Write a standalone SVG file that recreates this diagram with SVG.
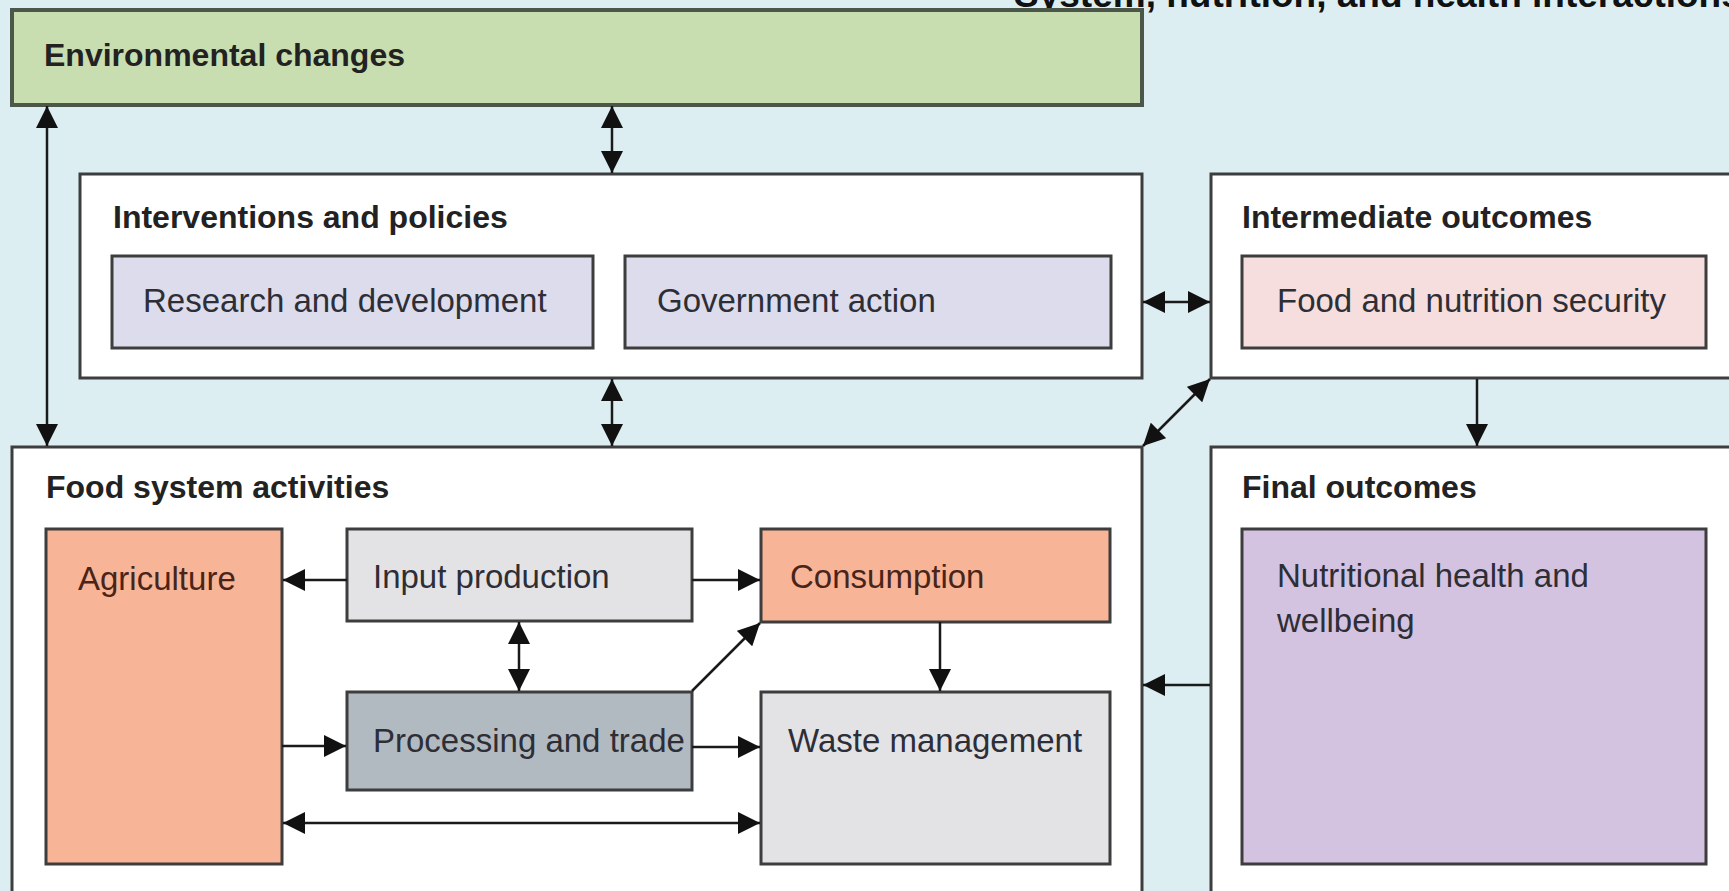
<svg xmlns="http://www.w3.org/2000/svg" width="1729" height="891" viewBox="0 0 1729 891">
<defs>
<marker id="ah" markerUnits="userSpaceOnUse" markerWidth="22" markerHeight="22" viewBox="0 0 22 22" refX="22" refY="11" orient="auto-start-reverse">
<path d="M0,0 L22,11 L0,22 z" fill="#111"/>
</marker>
<style>
.bx{stroke:#3d3d3d;stroke-width:3}
.title{font-family:"Liberation Sans",Arial,sans-serif;font-weight:bold;font-size:32px;fill:#222}
.top{font-family:"Liberation Sans",Arial,sans-serif;font-weight:bold;font-size:37px;fill:#111}
.lbl{font-family:"Liberation Sans",Arial,sans-serif;font-size:33px;fill:#2e2e36}
.lbr{font-family:"Liberation Sans",Arial,sans-serif;font-size:33px;fill:#4a2418}
.c{stroke:#1a1a1a;stroke-width:2.5;fill:none}
.e{marker-end:url(#ah)}
.b{marker-start:url(#ah);marker-end:url(#ah)}
</style>
</defs>
<rect x="0" y="0" width="1729" height="891" fill="#ddeef3"/>
<text x="1014" y="7" class="top">System, nutrition, and health interactions</text>

<g id="env">
<rect x="12" y="10" width="1130" height="95" fill="#c9deb0" stroke="#4a574a" stroke-width="4"/>
<text x="44" y="66" class="title">Environmental changes</text>
</g>

<g id="interventions">
<rect x="80" y="174" width="1062" height="204" fill="#ffffff" class="bx"/>
<text x="113" y="228" class="title">Interventions and policies</text>
</g>
<g id="research">
<rect x="112" y="256" width="481" height="92" fill="#dcdcec" class="bx"/>
<text x="143" y="312" class="lbl">Research and development</text>
</g>
<g id="government">
<rect x="625" y="256" width="486" height="92" fill="#dcdcec" class="bx"/>
<text x="657" y="312" class="lbl">Government action</text>
</g>

<g id="intermediate">
<rect x="1211" y="174" width="540" height="204" fill="#ffffff" class="bx"/>
<text x="1242" y="228" class="title">Intermediate outcomes</text>
</g>
<g id="fns">
<rect x="1242" y="256" width="464" height="92" fill="#f5dedd" class="bx"/>
<text x="1277" y="312" class="lbl">Food and nutrition security</text>
</g>

<g id="foodsystem">
<rect x="12" y="447" width="1130" height="470" fill="#ffffff" class="bx"/>
<text x="46" y="498" class="title">Food system activities</text>
</g>
<g id="agriculture">
<rect x="46" y="529" width="236" height="335" fill="#f7b497" class="bx"/>
<text x="78" y="590" class="lbr">Agriculture</text>
</g>
<g id="input">
<rect x="347" y="529" width="345" height="92" fill="#e3e3e6" class="bx"/>
<text x="373" y="588" class="lbl">Input production</text>
</g>
<g id="consumption">
<rect x="761" y="529" width="349" height="93" fill="#f7b497" class="bx"/>
<text x="790" y="588" class="lbr">Consumption</text>
</g>
<g id="processing">
<rect x="347" y="692" width="345" height="98" fill="#b2bac1" class="bx"/>
<text x="373" y="752" class="lbl">Processing and trade</text>
</g>
<g id="waste">
<rect x="761" y="692" width="349" height="172" fill="#e3e3e6" class="bx"/>
<text x="788" y="752" class="lbl">Waste management</text>
</g>

<g id="final">
<rect x="1211" y="447" width="540" height="470" fill="#ffffff" class="bx"/>
<text x="1242" y="498" class="title">Final outcomes</text>
</g>
<g id="nutritional">
<rect x="1242" y="529" width="464" height="335" fill="#d3c3e0" class="bx"/>
<text x="1277" y="587" class="lbl">Nutritional health and</text>
<text x="1277" y="632" class="lbl">wellbeing</text>
</g>

<g id="connectors">
<line x1="47" y1="106" x2="47" y2="446" class="c b"/>
<line x1="612" y1="106" x2="612" y2="173" class="c b"/>
<line x1="612" y1="379" x2="612" y2="446" class="c b"/>
<line x1="1143" y1="302" x2="1210" y2="302" class="c b"/>
<line x1="1143" y1="446" x2="1210" y2="379" class="c b"/>
<line x1="1477" y1="379" x2="1477" y2="446" class="c e"/>
<line x1="1210" y1="685" x2="1143" y2="685" class="c e"/>
<line x1="347" y1="580" x2="283" y2="580" class="c e"/>
<line x1="692" y1="580" x2="760" y2="580" class="c e"/>
<line x1="519" y1="622" x2="519" y2="691" class="c b"/>
<line x1="692" y1="691" x2="760" y2="623" class="c e"/>
<line x1="940" y1="622" x2="940" y2="691" class="c e"/>
<line x1="282" y1="746" x2="346" y2="746" class="c e"/>
<line x1="692" y1="747" x2="760" y2="747" class="c e"/>
<line x1="283" y1="823" x2="760" y2="823" class="c b"/>
</g>
</svg>
